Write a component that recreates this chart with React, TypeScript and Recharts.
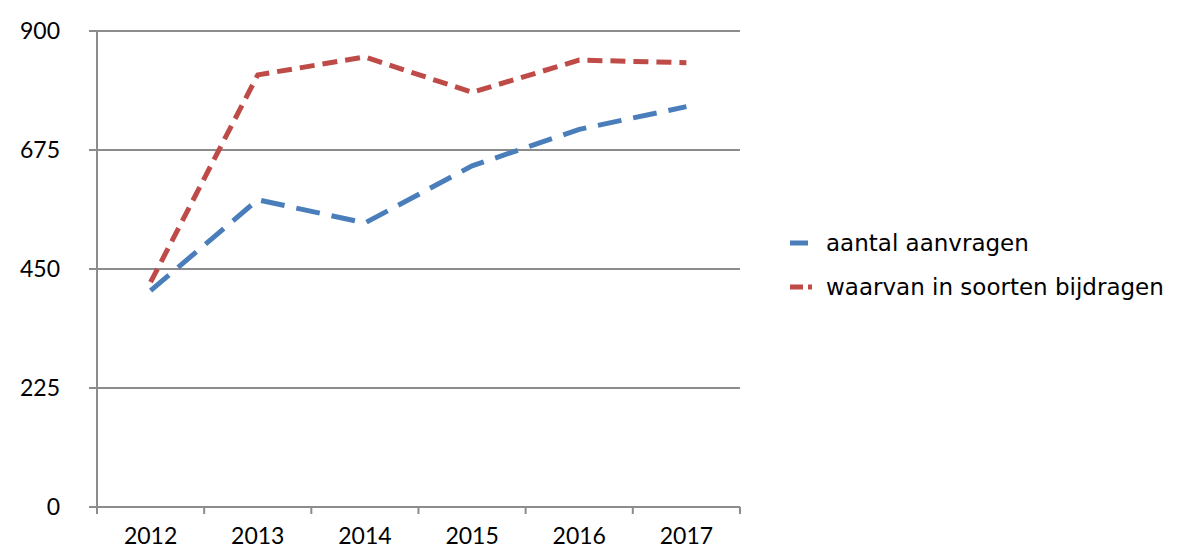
import { LineChart, Line, XAxis, YAxis, CartesianGrid } from "recharts";

const years = ["2012", "2013", "2014", "2015", "2016", "2017"];
const aanvragen = [409, 581, 537, 645, 714, 757];
const bijdragen = [425, 817, 851, 784, 845, 840];
const yTicks = [0, 225, 450, 675, 900];

const data = years.map((year, i) => ({ year, aanvragen: aanvragen[i], bijdragen: bijdragen[i] }));

const BLUE = "#4a7ebb";
const RED = "#be4b48";
const GRID = "#8c8c8c";
const HALF_BAND = 53.6;

function XTick(props: any) {
    const { x, y, payload, index } = props;
    const last = index === years.length - 1;
    return (
        <g>
            <line x1={x - HALF_BAND} x2={x - HALF_BAND} y1={y - 8} y2={y - 1} stroke={GRID} strokeWidth={2} />
            {last && <line x1={x + HALF_BAND} x2={x + HALF_BAND} y1={y - 8} y2={y - 1} stroke={GRID} strokeWidth={2} />}
            <text x={x} y={y + 29} textAnchor="middle" fontSize={23} fontFamily="Lato" fill="#000">
                {payload.value}
            </text>
        </g>
    );
}

export default function App() {
    return (
        <div style={{ position: "absolute", left: 0, top: 0, width: 1182, height: 548, background: "#fff" }}>
            <LineChart width={1182} height={548} data={data} margin={{ left: 0, right: 442, top: 31, bottom: 0 }}>
                <CartesianGrid vertical={false} stroke={GRID} strokeWidth={2} strokeDasharray="" />
                <XAxis
                    dataKey="year"
                    padding={{ left: HALF_BAND, right: HALF_BAND }}
                    axisLine={{ stroke: GRID, strokeWidth: 2 }}
                    tickLine={false}
                    tick={<XTick />}
                    interval={0}
                    height={41}
                />
                <YAxis
                    domain={[0, 900]}
                    ticks={yTicks}
                    width={97}
                    axisLine={{ stroke: GRID, strokeWidth: 2 }}
                    tickLine={{ stroke: GRID, strokeWidth: 2 }}
                    tickSize={8}
                    tickMargin={29}
                    tick={{ fontSize: 23, fontFamily: "Lato", fill: "#000" }}
                />
                <Line dataKey="aanvragen" stroke={BLUE} strokeWidth={5} strokeDasharray="24 12" dot={false} isAnimationActive={false} />
                <Line dataKey="bijdragen" stroke={RED} strokeWidth={5} strokeDasharray="15 8" dot={false} isAnimationActive={false} />
            </LineChart>
            <div style={{ position: "absolute", left: 788, top: 221, fontFamily: "DejaVu Sans", fontSize: 23, color: "#000", lineHeight: "44px" }}>
                <div style={{ display: "flex", alignItems: "center" }}>
                    <svg width={36} height={10}><line x1={2} x2={20} y1={5} y2={5} stroke={BLUE} strokeWidth={5} /></svg>
                    <span style={{ marginLeft: 2 }}>aantal aanvragen</span>
                </div>
                <div style={{ display: "flex", alignItems: "center" }}>
                    <svg width={36} height={10}><line x1={2} x2={24} y1={5} y2={5} stroke={RED} strokeWidth={5} strokeDasharray="13 5" /></svg>
                    <span style={{ marginLeft: 2 }}>waarvan in soorten bijdragen</span>
                </div>
            </div>
        </div>
    );
}
